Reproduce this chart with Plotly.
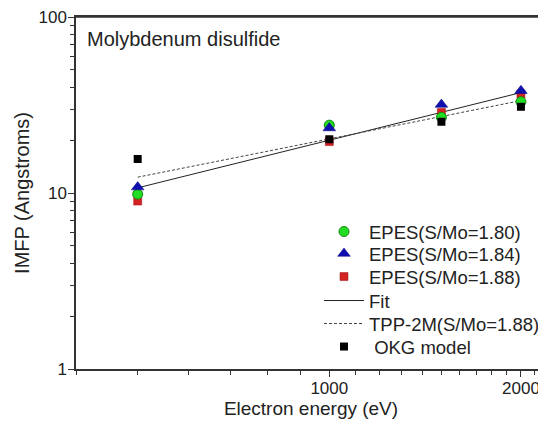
import plotly.graph_objects as go

energy = [500, 1000, 1500, 2000]
epes_180 = [9.85, 24.3, 26.9, 33.0]
epes_184 = [10.8, 23.4, 31.8, 38.1]
epes_188 = [9.0, 19.6, 28.7, 36.5]
fit = [10.7, 19.95, 28.7, 37.2]
tpp2m = [12.3, 20.3, 27.2, 33.5]
okg = [15.6, 20.2, 25.4, 30.9]

x_major = [1000, 2000]
x_minor = [400, 500, 600, 700, 800, 900, 1100, 1200, 1300, 1400, 1500, 1600,
           1700, 1800, 1900, 2100]
y_major = [1, 10, 100]
y_minor = [2, 3, 4, 5, 6, 7, 8, 9, 20, 30, 40, 50, 60, 70, 80, 90]

FONT = "Arial, Liberation Sans, sans-serif"
TXT = "#222222"

# figure geometry (page body has an 8px margin)
W, H = 538, 416
ML, MR, MT, MB = 68, 0, 9, 55
PH = H - MT - MB
LEG_X = 0.517
# legend row centres in figure pixels
leg_rows = [224, 246, 269, 293, 316, 339]


def leg_y(py):
    return (H - MB - py) / PH


fig = go.Figure()
fig.add_trace(go.Scatter(x=energy, y=fit, mode="lines", name="Fit",
                         line=dict(color="#222222", width=1), legend="legend4"))
fig.add_trace(go.Scatter(x=energy, y=tpp2m, mode="lines", name="TPP-2M(S/Mo=1.88)",
                         line=dict(color="#444444", width=1, dash="3px,2px"),
                         legend="legend5"))
fig.add_trace(go.Scatter(x=energy, y=epes_188, mode="markers", name="EPES(S/Mo=1.88)",
                         marker=dict(symbol="square", size=8, color="#d42222",
                                     line=dict(color="#a01010", width=0.5)),
                         legend="legend3"))
fig.add_trace(go.Scatter(x=energy, y=epes_180, mode="markers", name="EPES(S/Mo=1.80)",
                         marker=dict(symbol="circle", size=10, color="#22dd22",
                                     line=dict(color="#118811", width=1)),
                         legend="legend"))
fig.add_trace(go.Scatter(x=energy, y=epes_184, mode="markers", name="EPES(S/Mo=1.84)",
                         marker=dict(symbol="triangle-up", size=11, color="#1010b0",
                                     line=dict(color="#000080", width=0.5)),
                         legend="legend2"))
fig.add_trace(go.Scatter(x=energy, y=okg, mode="markers", name="\u00a0OKG model",
                         marker=dict(symbol="square", size=8, color="#000000"),
                         legend="legend6"))

legend_common = dict(xanchor="left", yanchor="middle", bgcolor="rgba(0,0,0,0)",
                     font=dict(size=18.5, color=TXT), itemwidth=40)
legends = {}
for i, py in enumerate(leg_rows):
    key = "legend" if i == 0 else f"legend{i + 1}"
    legends[key] = dict(x=LEG_X, y=leg_y(py), **legend_common)

fig.update_layout(
    width=W, height=H,
    margin=dict(l=ML, r=MR, t=MT, b=MB),
    paper_bgcolor="white", plot_bgcolor="white",
    font=dict(family=FONT, size=18, color=TXT),
    showlegend=True,
    annotations=[dict(text="Molybdenum disulfide", xref="paper", yref="paper",
                      x=0.02, y=0.975, xanchor="left", yanchor="top", showarrow=False,
                      font=dict(size=20, color=TXT))],
    shapes=[dict(type="line", xref="paper", yref="paper", x0=0, x1=1, y0=1, y1=1,
                 line=dict(color="#333", width=1.5), layer="above")],
    **legends,
)
fig.update_xaxes(
    type="log", range=[2.60206, 3.3404],
    title=dict(text="Electron energy (eV)", standoff=5, font=dict(size=19, color=TXT)),
    tickmode="array", tickvals=x_major, ticktext=[str(v) for v in x_major],
    ticks="outside", ticklen=6, tickwidth=1.2, tickcolor="#333",
    ticklabelstandoff=-3, ticklabeloverflow="allow",
    showline=True, linecolor="#333", linewidth=1.5, mirror=True,
    showgrid=False, zeroline=False,
    minor=dict(tickmode="array", tickvals=x_minor, ticks="outside", ticklen=4,
               tickwidth=1, tickcolor="#333", showgrid=False),
    tickfont=dict(size=17, color=TXT),
)
fig.update_yaxes(
    type="log", range=[0, 2],
    title=dict(text="IMFP (Angstroms)", standoff=3, font=dict(size=20, color=TXT)),
    tickmode="array", tickvals=y_major, ticktext=[str(v) for v in y_major],
    ticks="outside", ticklen=6, tickwidth=1.2, tickcolor="#333",
    ticklabelstandoff=-2, ticklabeloverflow="allow",
    showline=True, linecolor="#333", linewidth=1.5, mirror=False,
    showgrid=False, zeroline=False,
    minor=dict(tickmode="array", tickvals=y_minor, ticks="outside", ticklen=4,
               tickwidth=1, tickcolor="#333", showgrid=False),
    tickfont=dict(size=17, color=TXT),
)

fig.write_html("out.html")
